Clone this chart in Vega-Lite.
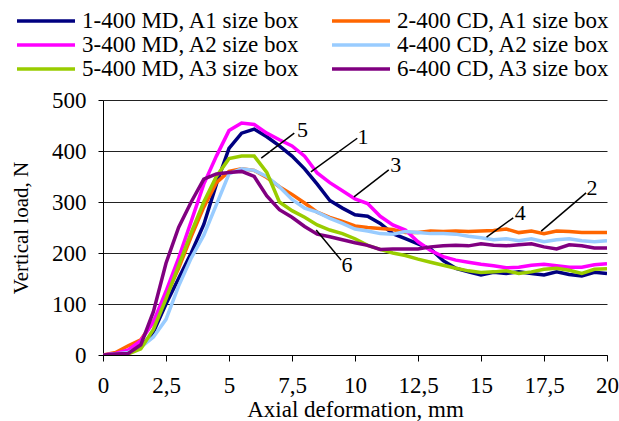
{
  "$schema": "https://vega.github.io/schema/vega-lite/v6.json",
  "width": 504,
  "height": 255,
  "autosize": {"type": "none"},
  "padding": {"left": 103, "top": 100, "right": 12, "bottom": 66},
  "background": "white",
  "config": {
    "view": {"stroke": null},
    "font": "Liberation Serif",
    "axis": {"labelFont": "Liberation Serif", "titleFont": "Liberation Serif", "labelColor": "black", "titleColor": "black", "titleFontWeight": "normal"}
  },
  "datasets": {
    "curves": [
      {"s":"1-400 MD, A1 size box","x":0,"y":0},{"s":"1-400 MD, A1 size box","x":0.5,"y":0},{"s":"1-400 MD, A1 size box","x":1,"y":3},{"s":"1-400 MD, A1 size box","x":1.5,"y":15},{"s":"1-400 MD, A1 size box","x":2,"y":45},{"s":"1-400 MD, A1 size box","x":2.5,"y":100},{"s":"1-400 MD, A1 size box","x":3,"y":150},{"s":"1-400 MD, A1 size box","x":3.5,"y":200},{"s":"1-400 MD, A1 size box","x":4,"y":256},{"s":"1-400 MD, A1 size box","x":4.5,"y":335},{"s":"1-400 MD, A1 size box","x":5,"y":405},{"s":"1-400 MD, A1 size box","x":5.5,"y":435},{"s":"1-400 MD, A1 size box","x":6,"y":443},{"s":"1-400 MD, A1 size box","x":6.5,"y":428},{"s":"1-400 MD, A1 size box","x":7,"y":410},{"s":"1-400 MD, A1 size box","x":7.5,"y":390},{"s":"1-400 MD, A1 size box","x":8,"y":365},{"s":"1-400 MD, A1 size box","x":8.5,"y":335},{"s":"1-400 MD, A1 size box","x":9,"y":303},{"s":"1-400 MD, A1 size box","x":9.5,"y":288},{"s":"1-400 MD, A1 size box","x":10,"y":275},{"s":"1-400 MD, A1 size box","x":10.5,"y":272},{"s":"1-400 MD, A1 size box","x":11,"y":258},{"s":"1-400 MD, A1 size box","x":11.5,"y":238},{"s":"1-400 MD, A1 size box","x":12,"y":228},{"s":"1-400 MD, A1 size box","x":12.5,"y":218},{"s":"1-400 MD, A1 size box","x":13,"y":208},{"s":"1-400 MD, A1 size box","x":13.5,"y":185},{"s":"1-400 MD, A1 size box","x":14,"y":170},{"s":"1-400 MD, A1 size box","x":14.5,"y":163},{"s":"1-400 MD, A1 size box","x":15,"y":157},{"s":"1-400 MD, A1 size box","x":15.5,"y":162},{"s":"1-400 MD, A1 size box","x":16,"y":160},{"s":"1-400 MD, A1 size box","x":16.5,"y":163},{"s":"1-400 MD, A1 size box","x":17,"y":160},{"s":"1-400 MD, A1 size box","x":17.5,"y":157},{"s":"1-400 MD, A1 size box","x":18,"y":163},{"s":"1-400 MD, A1 size box","x":18.5,"y":158},{"s":"1-400 MD, A1 size box","x":19,"y":155},{"s":"1-400 MD, A1 size box","x":19.5,"y":162},{"s":"1-400 MD, A1 size box","x":20,"y":160},
      {"s":"2-400 CD, A1 size box","x":0,"y":0},{"s":"2-400 CD, A1 size box","x":0.5,"y":5},{"s":"2-400 CD, A1 size box","x":1,"y":18},{"s":"2-400 CD, A1 size box","x":1.5,"y":30},{"s":"2-400 CD, A1 size box","x":2,"y":65},{"s":"2-400 CD, A1 size box","x":2.5,"y":115},{"s":"2-400 CD, A1 size box","x":3,"y":170},{"s":"2-400 CD, A1 size box","x":3.5,"y":232},{"s":"2-400 CD, A1 size box","x":4,"y":290},{"s":"2-400 CD, A1 size box","x":4.5,"y":338},{"s":"2-400 CD, A1 size box","x":5,"y":360},{"s":"2-400 CD, A1 size box","x":5.5,"y":365},{"s":"2-400 CD, A1 size box","x":6,"y":362},{"s":"2-400 CD, A1 size box","x":6.5,"y":348},{"s":"2-400 CD, A1 size box","x":7,"y":330},{"s":"2-400 CD, A1 size box","x":7.5,"y":315},{"s":"2-400 CD, A1 size box","x":8,"y":298},{"s":"2-400 CD, A1 size box","x":8.5,"y":280},{"s":"2-400 CD, A1 size box","x":9,"y":270},{"s":"2-400 CD, A1 size box","x":9.5,"y":262},{"s":"2-400 CD, A1 size box","x":10,"y":253},{"s":"2-400 CD, A1 size box","x":10.5,"y":250},{"s":"2-400 CD, A1 size box","x":11,"y":248},{"s":"2-400 CD, A1 size box","x":11.5,"y":246},{"s":"2-400 CD, A1 size box","x":12,"y":240},{"s":"2-400 CD, A1 size box","x":12.5,"y":240},{"s":"2-400 CD, A1 size box","x":13,"y":243},{"s":"2-400 CD, A1 size box","x":13.5,"y":242},{"s":"2-400 CD, A1 size box","x":14,"y":243},{"s":"2-400 CD, A1 size box","x":14.5,"y":242},{"s":"2-400 CD, A1 size box","x":15,"y":243},{"s":"2-400 CD, A1 size box","x":15.5,"y":244},{"s":"2-400 CD, A1 size box","x":16,"y":247},{"s":"2-400 CD, A1 size box","x":16.5,"y":240},{"s":"2-400 CD, A1 size box","x":17,"y":243},{"s":"2-400 CD, A1 size box","x":17.5,"y":238},{"s":"2-400 CD, A1 size box","x":18,"y":243},{"s":"2-400 CD, A1 size box","x":18.5,"y":242},{"s":"2-400 CD, A1 size box","x":19,"y":240},{"s":"2-400 CD, A1 size box","x":19.5,"y":240},{"s":"2-400 CD, A1 size box","x":20,"y":240},
      {"s":"3-400 MD, A2 size box","x":0,"y":0},{"s":"3-400 MD, A2 size box","x":0.5,"y":3},{"s":"3-400 MD, A2 size box","x":1,"y":10},{"s":"3-400 MD, A2 size box","x":1.5,"y":28},{"s":"3-400 MD, A2 size box","x":2,"y":65},{"s":"3-400 MD, A2 size box","x":2.5,"y":125},{"s":"3-400 MD, A2 size box","x":3,"y":190},{"s":"3-400 MD, A2 size box","x":3.5,"y":262},{"s":"3-400 MD, A2 size box","x":4,"y":335},{"s":"3-400 MD, A2 size box","x":4.5,"y":390},{"s":"3-400 MD, A2 size box","x":5,"y":440},{"s":"3-400 MD, A2 size box","x":5.5,"y":455},{"s":"3-400 MD, A2 size box","x":6,"y":452},{"s":"3-400 MD, A2 size box","x":6.5,"y":435},{"s":"3-400 MD, A2 size box","x":7,"y":422},{"s":"3-400 MD, A2 size box","x":7.5,"y":410},{"s":"3-400 MD, A2 size box","x":8,"y":390},{"s":"3-400 MD, A2 size box","x":8.5,"y":357},{"s":"3-400 MD, A2 size box","x":9,"y":338},{"s":"3-400 MD, A2 size box","x":9.5,"y":322},{"s":"3-400 MD, A2 size box","x":10,"y":306},{"s":"3-400 MD, A2 size box","x":10.5,"y":297},{"s":"3-400 MD, A2 size box","x":11,"y":272},{"s":"3-400 MD, A2 size box","x":11.5,"y":255},{"s":"3-400 MD, A2 size box","x":12,"y":245},{"s":"3-400 MD, A2 size box","x":12.5,"y":222},{"s":"3-400 MD, A2 size box","x":13,"y":205},{"s":"3-400 MD, A2 size box","x":13.5,"y":193},{"s":"3-400 MD, A2 size box","x":14,"y":186},{"s":"3-400 MD, A2 size box","x":14.5,"y":182},{"s":"3-400 MD, A2 size box","x":15,"y":178},{"s":"3-400 MD, A2 size box","x":15.5,"y":175},{"s":"3-400 MD, A2 size box","x":16,"y":171},{"s":"3-400 MD, A2 size box","x":16.5,"y":172},{"s":"3-400 MD, A2 size box","x":17,"y":176},{"s":"3-400 MD, A2 size box","x":17.5,"y":178},{"s":"3-400 MD, A2 size box","x":18,"y":175},{"s":"3-400 MD, A2 size box","x":18.5,"y":172},{"s":"3-400 MD, A2 size box","x":19,"y":172},{"s":"3-400 MD, A2 size box","x":19.5,"y":177},{"s":"3-400 MD, A2 size box","x":20,"y":179},
      {"s":"4-400 CD, A2 size box","x":0,"y":0},{"s":"4-400 CD, A2 size box","x":0.5,"y":2},{"s":"4-400 CD, A2 size box","x":1,"y":5},{"s":"4-400 CD, A2 size box","x":1.5,"y":15},{"s":"4-400 CD, A2 size box","x":2,"y":35},{"s":"4-400 CD, A2 size box","x":2.5,"y":70},{"s":"4-400 CD, A2 size box","x":3,"y":135},{"s":"4-400 CD, A2 size box","x":3.5,"y":190},{"s":"4-400 CD, A2 size box","x":4,"y":235},{"s":"4-400 CD, A2 size box","x":4.5,"y":295},{"s":"4-400 CD, A2 size box","x":5,"y":355},{"s":"4-400 CD, A2 size box","x":5.5,"y":365},{"s":"4-400 CD, A2 size box","x":6,"y":362},{"s":"4-400 CD, A2 size box","x":6.5,"y":350},{"s":"4-400 CD, A2 size box","x":7,"y":330},{"s":"4-400 CD, A2 size box","x":7.5,"y":305},{"s":"4-400 CD, A2 size box","x":8,"y":288},{"s":"4-400 CD, A2 size box","x":8.5,"y":280},{"s":"4-400 CD, A2 size box","x":9,"y":268},{"s":"4-400 CD, A2 size box","x":9.5,"y":258},{"s":"4-400 CD, A2 size box","x":10,"y":247},{"s":"4-400 CD, A2 size box","x":10.5,"y":243},{"s":"4-400 CD, A2 size box","x":11,"y":238},{"s":"4-400 CD, A2 size box","x":11.5,"y":237},{"s":"4-400 CD, A2 size box","x":12,"y":242},{"s":"4-400 CD, A2 size box","x":12.5,"y":240},{"s":"4-400 CD, A2 size box","x":13,"y":238},{"s":"4-400 CD, A2 size box","x":13.5,"y":238},{"s":"4-400 CD, A2 size box","x":14,"y":237},{"s":"4-400 CD, A2 size box","x":14.5,"y":233},{"s":"4-400 CD, A2 size box","x":15,"y":230},{"s":"4-400 CD, A2 size box","x":15.5,"y":226},{"s":"4-400 CD, A2 size box","x":16,"y":228},{"s":"4-400 CD, A2 size box","x":16.5,"y":224},{"s":"4-400 CD, A2 size box","x":17,"y":228},{"s":"4-400 CD, A2 size box","x":17.5,"y":222},{"s":"4-400 CD, A2 size box","x":18,"y":226},{"s":"4-400 CD, A2 size box","x":18.5,"y":228},{"s":"4-400 CD, A2 size box","x":19,"y":224},{"s":"4-400 CD, A2 size box","x":19.5,"y":222},{"s":"4-400 CD, A2 size box","x":20,"y":224},
      {"s":"5-400 MD, A3 size box","x":0,"y":0},{"s":"5-400 MD, A3 size box","x":0.5,"y":0},{"s":"5-400 MD, A3 size box","x":1,"y":2},{"s":"5-400 MD, A3 size box","x":1.5,"y":12},{"s":"5-400 MD, A3 size box","x":2,"y":50},{"s":"5-400 MD, A3 size box","x":2.5,"y":110},{"s":"5-400 MD, A3 size box","x":3,"y":175},{"s":"5-400 MD, A3 size box","x":3.5,"y":240},{"s":"5-400 MD, A3 size box","x":4,"y":300},{"s":"5-400 MD, A3 size box","x":4.5,"y":350},{"s":"5-400 MD, A3 size box","x":5,"y":385},{"s":"5-400 MD, A3 size box","x":5.5,"y":390},{"s":"5-400 MD, A3 size box","x":6,"y":390},{"s":"5-400 MD, A3 size box","x":6.5,"y":358},{"s":"5-400 MD, A3 size box","x":7,"y":300},{"s":"5-400 MD, A3 size box","x":7.5,"y":283},{"s":"5-400 MD, A3 size box","x":8,"y":270},{"s":"5-400 MD, A3 size box","x":8.5,"y":255},{"s":"5-400 MD, A3 size box","x":9,"y":245},{"s":"5-400 MD, A3 size box","x":9.5,"y":238},{"s":"5-400 MD, A3 size box","x":10,"y":228},{"s":"5-400 MD, A3 size box","x":10.5,"y":215},{"s":"5-400 MD, A3 size box","x":11,"y":207},{"s":"5-400 MD, A3 size box","x":11.5,"y":200},{"s":"5-400 MD, A3 size box","x":12,"y":195},{"s":"5-400 MD, A3 size box","x":12.5,"y":188},{"s":"5-400 MD, A3 size box","x":13,"y":182},{"s":"5-400 MD, A3 size box","x":13.5,"y":176},{"s":"5-400 MD, A3 size box","x":14,"y":170},{"s":"5-400 MD, A3 size box","x":14.5,"y":165},{"s":"5-400 MD, A3 size box","x":15,"y":162},{"s":"5-400 MD, A3 size box","x":15.5,"y":163},{"s":"5-400 MD, A3 size box","x":16,"y":165},{"s":"5-400 MD, A3 size box","x":16.5,"y":160},{"s":"5-400 MD, A3 size box","x":17,"y":163},{"s":"5-400 MD, A3 size box","x":17.5,"y":168},{"s":"5-400 MD, A3 size box","x":18,"y":170},{"s":"5-400 MD, A3 size box","x":18.5,"y":166},{"s":"5-400 MD, A3 size box","x":19,"y":160},{"s":"5-400 MD, A3 size box","x":19.5,"y":168},{"s":"5-400 MD, A3 size box","x":20,"y":169},
      {"s":"6-400 CD, A3 size box","x":0,"y":0},{"s":"6-400 CD, A3 size box","x":0.5,"y":2},{"s":"6-400 CD, A3 size box","x":1,"y":3},{"s":"6-400 CD, A3 size box","x":1.5,"y":20},{"s":"6-400 CD, A3 size box","x":2,"y":85},{"s":"6-400 CD, A3 size box","x":2.5,"y":180},{"s":"6-400 CD, A3 size box","x":3,"y":250},{"s":"6-400 CD, A3 size box","x":3.5,"y":300},{"s":"6-400 CD, A3 size box","x":4,"y":345},{"s":"6-400 CD, A3 size box","x":4.5,"y":355},{"s":"6-400 CD, A3 size box","x":5,"y":358},{"s":"6-400 CD, A3 size box","x":5.5,"y":360},{"s":"6-400 CD, A3 size box","x":6,"y":350},{"s":"6-400 CD, A3 size box","x":6.5,"y":312},{"s":"6-400 CD, A3 size box","x":7,"y":285},{"s":"6-400 CD, A3 size box","x":7.5,"y":270},{"s":"6-400 CD, A3 size box","x":8,"y":252},{"s":"6-400 CD, A3 size box","x":8.5,"y":237},{"s":"6-400 CD, A3 size box","x":9,"y":232},{"s":"6-400 CD, A3 size box","x":9.5,"y":226},{"s":"6-400 CD, A3 size box","x":10,"y":220},{"s":"6-400 CD, A3 size box","x":10.5,"y":215},{"s":"6-400 CD, A3 size box","x":11,"y":207},{"s":"6-400 CD, A3 size box","x":11.5,"y":208},{"s":"6-400 CD, A3 size box","x":12,"y":208},{"s":"6-400 CD, A3 size box","x":12.5,"y":208},{"s":"6-400 CD, A3 size box","x":13,"y":212},{"s":"6-400 CD, A3 size box","x":13.5,"y":214},{"s":"6-400 CD, A3 size box","x":14,"y":215},{"s":"6-400 CD, A3 size box","x":14.5,"y":214},{"s":"6-400 CD, A3 size box","x":15,"y":218},{"s":"6-400 CD, A3 size box","x":15.5,"y":215},{"s":"6-400 CD, A3 size box","x":16,"y":214},{"s":"6-400 CD, A3 size box","x":16.5,"y":216},{"s":"6-400 CD, A3 size box","x":17,"y":218},{"s":"6-400 CD, A3 size box","x":17.5,"y":212},{"s":"6-400 CD, A3 size box","x":18,"y":208},{"s":"6-400 CD, A3 size box","x":18.5,"y":216},{"s":"6-400 CD, A3 size box","x":19,"y":214},{"s":"6-400 CD, A3 size box","x":19.5,"y":210},{"s":"6-400 CD, A3 size box","x":20,"y":210}
    ],
    "labels": [
      {"t":"1","x":10.32,"y":427,"x1":8.25,"y1":359,"x2":10.09,"y2":425},
      {"t":"2","x":19.4,"y":327,"x1":17.39,"y1":243,"x2":19.17,"y2":318},
      {"t":"3","x":11.62,"y":373,"x1":9.96,"y1":310,"x2":11.34,"y2":363},
      {"t":"4","x":16.56,"y":278,"x1":15.22,"y1":231,"x2":16.28,"y2":269},
      {"t":"5","x":7.92,"y":441,"x1":6.28,"y1":386,"x2":7.59,"y2":435},
      {"t":"6","x":9.68,"y":176,"x1":8.46,"y1":245,"x2":9.45,"y2":186}
    ]
  },
  "layer": [
    {
      "data": {"name": "curves"},
      "mark": {"type": "line", "strokeWidth": 3.5, "clip": true},
      "encoding": {
        "x": {
          "field": "x", "type": "quantitative",
          "scale": {"domain": [0, 20], "nice": false, "zero": false},
          "axis": {
            "title": "Axial deformation, mm", "titleFontSize": 23, "titlePadding": 1,
            "values": [0, 2.5, 5, 7.5, 10, 12.5, 15, 17.5, 20],
            "labelExpr": "replace(toString(datum.value), '.', ',')",
            "labelFontSize": 23, "labelPadding": 13,
            "grid": false, "domainColor": "black", "tickColor": "black", "tickSize": 6,
            "labelFlush": false, "labelOverlap": false
          }
        },
        "y": {
          "field": "y", "type": "quantitative",
          "scale": {"domain": [0, 500], "nice": false},
          "axis": {
            "title": "Vertical load, N", "titleFontSize": 21, "titlePadding": 20,
            "values": [0, 100, 200, 300, 400, 500],
            "labelFontSize": 23, "labelPadding": 12,
            "grid": true, "gridColor": "#222", "gridWidth": 1,
            "domainColor": "black", "tickColor": "black", "tickSize": 5
          }
        },
        "color": {
          "field": "s", "type": "nominal",
          "scale": {
            "domain": ["1-400 MD, A1 size box", "2-400 CD, A1 size box", "3-400 MD, A2 size box", "4-400 CD, A2 size box", "5-400 MD, A3 size box", "6-400 CD, A3 size box"],
            "range": ["#000080", "#FF6600", "#FF00FF", "#99CCFF", "#99CC00", "#800080"]
          },
          "legend": {
            "title": null, "orient": "none", "legendX": -88, "legendY": -91,
            "direction": "horizontal", "columns": 2, "clipHeight": 24,
            "symbolType": "stroke", "symbolSize": 3364, "symbolStrokeWidth": 3.5,
            "labelFont": "Liberation Serif", "labelFontSize": 23, "labelColor": "black",
            "labelOffset": 5, "labelLimit": 400, "columnPadding": 30, "rowPadding": 0, "padding": 0
          }
        }
      }
    },
    {
      "data": {"name": "labels"},
      "mark": {"type": "rule", "color": "black", "strokeWidth": 1.5},
      "encoding": {
        "x": {"field": "x1", "type": "quantitative"},
        "y": {"field": "y1", "type": "quantitative"},
        "x2": {"field": "x2"},
        "y2": {"field": "y2"}
      }
    },
    {
      "data": {"name": "labels"},
      "mark": {"type": "text", "font": "Liberation Serif", "fontSize": 22, "color": "black", "align": "center", "baseline": "middle"},
      "encoding": {
        "x": {"field": "x", "type": "quantitative"},
        "y": {"field": "y", "type": "quantitative"},
        "text": {"field": "t"}
      }
    }
  ]
}
